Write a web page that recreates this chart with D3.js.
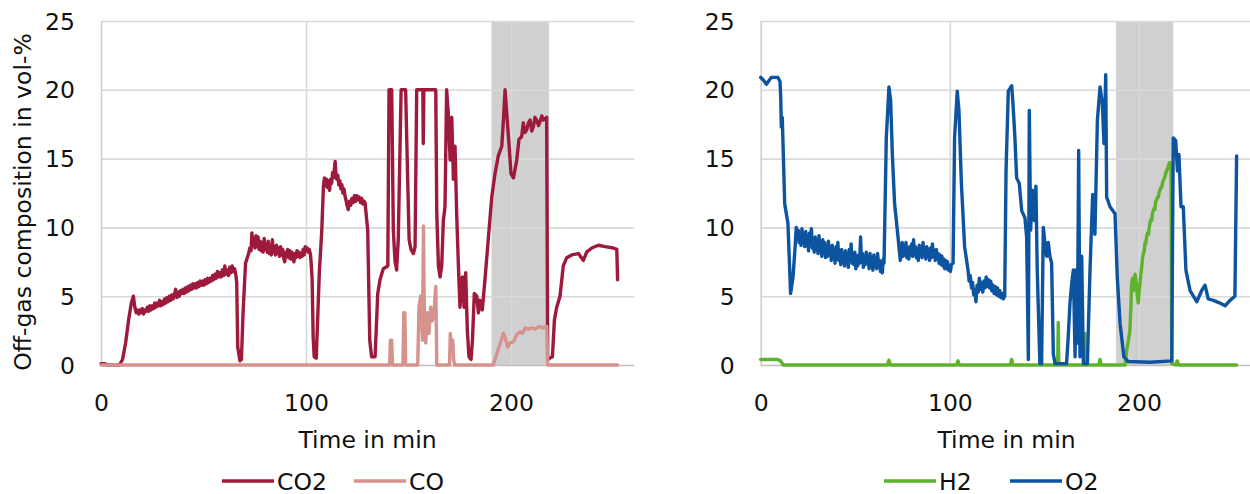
<!DOCTYPE html>
<html>
<head>
<meta charset="utf-8">
<script src="https://cdn.jsdelivr.net/npm/d3@7"></script>
<style>
  body { margin: 0; background: #fff; }
  svg text { font-family: "DejaVu Sans", sans-serif; font-size: 23.5px; fill: #111; }
  .grid line { stroke: #d9d9d9; stroke-width: 1.6; }
  .grid path { display: none; }
  .line { fill: none; stroke-width: 3.4; stroke-linejoin: round; stroke-linecap: round; }
</style>
</head>
<body>
<div id="chart"></div>
<script>
// values: [time in min, vol-%]
var co2 = [[0,0.1],[2,0.1],[3,0],[9,0],[10.5,0.4],[12,1.6],[13.5,3.3],[14.8,4.5],[15.8,5.0],[16.5,4.2],
  [17.2,3.8],[17.8,4.0],[18.4,3.7],[19,4.0],[19.6,3.8],[20.2,4.1],[20.8,3.7],[21.4,4.0],[22,3.9],[22.6,4.2],
  [23.2,3.9],[23.8,4.3],[24.4,4.0],[25,4.3],[25.6,4.1],[26.2,4.5],[26.8,4.2],[27.4,4.5],[28,4.3],[28.6,4.7],
  [29.2,4.3],[29.8,4.6],[30.4,4.4],[31,4.8],[31.6,4.5],[32.2,4.9],[32.8,4.6],[33.4,5.0],[34,4.7],[34.6,5.1],
  [35.2,4.8],[35.8,5.1],[36.4,5.5],[37,4.9],[37.6,5.3],[38.2,5.0],[38.8,5.4],[39.4,5.2],[40,5.5],[40.6,5.2],
  [41.2,5.6],[41.8,5.3],[42.4,5.7],[43,5.4],[43.6,5.8],[44.2,5.5],[44.8,5.9],[45.4,5.6],[46,5.9],[46.6,5.6],
  [47.2,6.0],[47.8,5.7],[48.4,6.1],[49,5.8],[49.6,6.1],[50.2,5.8],[50.8,6.2],[51.4,5.9],[52,6.3],[52.6,6.0],
  [53.2,6.3],[53.8,6.1],[54.4,6.5],[55,6.2],[55.6,6.6],[56.2,6.3],[56.8,6.8],[57.4,6.4],[58,6.7],[58.6,6.4],
  [59.2,6.9],[59.8,6.5],[60.4,7.2],[61,6.6],[61.6,6.9],[62.2,6.5],[62.8,7.1],[63.4,6.7],[64,7.2],[64.6,6.8],
  [65.2,7.0],[65.8,6.5],[66.2,6.0],[66.7,1.3],[67.8,0.3],[68.5,0.4],[69.3,3.8],[70.5,7.4],
  [72,8.1],[72.6,8.5],[73.2,8.3],[73.6,9.6],[74.1,8.7],[74.6,9.2],[75.1,8.5],[75.6,9.4],[76.1,8.6],[76.6,9.3],
  [77.1,8.4],[77.6,9.0],[78.1,8.3],[78.6,8.9],[79.1,8.2],[79.6,9.2],[80.1,8.4],[80.6,8.8],[81.1,8.2],[81.6,9.0],
  [82.1,8.1],[82.6,8.7],[83.1,8.0],[83.6,9.1],[84.1,8.2],[84.6,8.6],[85.1,8.0],[85.6,8.7],[86.1,8.1],[86.6,8.5],
  [87.1,7.9],[87.6,8.6],[88.1,8.0],[88.6,8.4],[89.1,7.8],[89.6,7.5],[90.1,8.2],[90.6,7.9],[91.1,8.4],[91.6,7.8],
  [92.1,8.3],[92.6,7.7],[93.1,8.2],[93.6,7.8],[94.1,7.5],[94.6,8.1],[95.1,7.8],[95.6,8.3],[96.1,7.9],[96.6,8.2],
  [97.1,7.8],[97.6,8.1],[98.1,7.9],[98.6,8.4],[99.1,8.0],[99.6,8.6],[100.1,8.3],[100.6,8.5],[101.1,8.2],
  [101.6,8.4],[102.2,8.0],[102.6,7.2],[103,6.2],[103.5,2.0],[104,0.6],[105,0.5],[105.8,3.8],[106.5,6.7],
  [107.7,9.8],[108.5,13.0],[109,13.6],[109.5,13.0],[110,13.5],[110.5,12.9],[111,13.4],[111.5,12.7],[112,13.5],
  [112.5,13.2],[113,14.0],[113.4,13.6],[113.8,14.2],[114.2,14.8],[114.6,13.9],[115,13.5],[115.5,13.8],[116,13.1],
  [116.5,13.4],[117,12.8],[117.5,13.1],[118,12.5],[118.5,12.8],[119,12.3],[119.5,12.0],[120,11.6],[120.6,11.3],
  [121.2,11.9],[121.8,11.6],[122.4,12.1],[123,11.8],[123.6,12.3],[124.2,11.9],[124.8,12.3],[125.4,12.0],
  [126,12.2],[126.6,11.8],[127.2,12.1],[127.8,11.7],[128.4,11.9],[128.8,11.8],[130.1,9.8],[131.1,1.8],[132,0.6],
  [133.7,0.6],[135,5.2],[136.1,6.2],[137.7,7.0],[139.9,7.2],[140.5,20],[141.8,20],[142.6,9.8],[143.4,7.6],
  [144.2,6.9],[145,9.1],[146.4,20],[148.6,20],[149.6,13.5],[150.3,9.1],[151.2,8.4],[152.4,8.1],[153.2,8.6],
  [154,20],[157,20],[157.2,16.1],[157.5,20],[163.3,20],[163.8,11],[164.6,7.2],[165.4,6.4],[166.2,7.2],[167,10.5],
  [167.8,11.5],[168.6,20],[169.4,18.3],[170.3,14.9],[171.1,18],[171.9,13.5],[172.7,15.9],[173.5,11],[174.3,7.4],
  [175.1,4.2],[176.3,6.4],[177.1,4.2],[177.9,6.7],[178.7,2.5],[179.5,0.6],[180.5,0.4],[181.2,1.8],[182.1,5.2],
  [183.3,5.0],[184.1,3.8],[184.9,4.7],[186,4.0],[187.3,6.2],[189,9.3],[190.6,12.2],[192.2,13.9],[193.8,15.2],
  [195.5,15.9],[196.3,17.8],[197.1,20],[198.4,17.3],[199,16.1],[200,13.9],[201.2,13.6],[202.8,14.9],[203.9,16.4],
  [205.2,16.6],[206,17.6],[206.8,16.9],[207.7,17.1],[208.5,17.6],[209.3,17.8],[210.1,17.0],[210.9,17.3],
  [211.7,18.0],[212.5,17.8],[213.4,17.4],[214.2,17.7],[215,18.1],[215.8,17.8],[216.6,17.9],[217.4,18],[217.9,0.4],
  [219,0.5],[220.2,0.6],[221.2,3.3],[222.3,4.2],[223.9,5.0],[225.5,7.2],[227.2,7.8],[229.6,8.0],[232.9,8.1],
  [235.3,7.6],[236.9,8.2],[239.4,8.5],[242.6,8.7],[245.9,8.6],[249.9,8.5],[251.6,8.4],[252,6.2]];

var co = [[0,0],[140.8,0],[141.2,1.8],[141.8,1.8],[142.2,0],[147.3,0],[147.7,3.8],[148.2,3.8],[148.6,0],[154.5,0],
  [155.1,4.2],[155.9,5.0],[156.8,1.8],[157.3,10.1],[157.7,3.8],[158.4,1.6],[159.2,3.8],[160,2.3],[160.8,4.2],
  [161.6,3.2],[162.5,4.0],[163.3,5.7],[163.8,0],[170,0],[170.4,2.3],[171,1.2],[171.6,1.8],[172,0.4],[172.5,0],
  [191.4,0],[193,0.8],[194.8,1.6],[196.3,2.3],[197.1,2.0],[198.4,1.3],[199.5,1.6],[201.2,1.7],[202.8,2.2],
  [204.4,2.4],[205.5,2.3],[207,2.7],[208.5,2.6],[210,2.7],[211.8,2.6],[213.5,2.8],[215.5,2.7],[217.4,2.8],
  [217.9,0],[252,0]];

var h2 = [[0,0.4],[9,0.4],[10.5,0.3],[12,0],[67,0],[67.8,0.35],[68.6,0],[103.5,0],[104.3,0.3],[105,0],[132,0],
  [132.7,0.4],[133.4,0],[157,0],[157.3,3.1],[157.6,0],[171.1,0],[171.4,2.3],[171.7,0],[178.7,0],[179.4,0.4],
  [180.1,0],[192.6,0],[193.5,1.1],[194.4,1.8],[195.2,2.5],[195.7,4.2],[196.1,5.9],[196.6,6.3],[197,5.4],
  [197.5,5.8],[197.9,6.6],[198.3,6.2],[198.7,5.8],[199.1,5.0],[199.6,4.5],[200,5.3],[200.5,5.9],[201,6.6],
  [201.4,7.1],[201.9,7.8],[202.3,8.1],[202.8,8.3],[203.2,8.9],[203.6,8.8],[204,9.3],[204.5,9.6],[205,9.5],
  [205.4,10.0],[205.8,10.3],[206.3,10.6],[206.7,10.5],[207.1,11.0],[207.5,11.2],[208,11.4],[208.4,11.3],
  [208.8,11.9],[209.3,12.0],[209.8,12.2],[210.2,12.2],[210.7,12.6],[211.1,12.7],[211.6,12.9],[212,12.9],
  [212.5,13.3],[212.9,13.4],[213.4,13.6],[213.8,13.7],[214.2,14.0],[214.6,14.1],[215.1,14.3],[215.5,14.4],
  [216,14.7],[216.4,14.7],[216.9,14.5],[217.4,0.1],[219.5,0],[220.2,0.3],[221,0],[251.6,0]];

var o2 = [[0,20.9],[1.5,20.7],[3,20.4],[4.5,20.7],[5.6,20.9],[9.1,20.9],[10.2,20.6],[10.6,19.4],[10.9,17.3],
  [11.4,18.0],[12.7,11.7],[14.4,10.3],[15.8,5.2],[17.1,6.4],
  [18.3,8.8],[18.8,10.0],[19.3,9.2],[19.8,9.8],[20.3,8.9],[20.8,9.6],[21.3,8.7],[21.8,9.9],[22.3,9.0],[22.8,9.5],
  [23.3,8.6],[23.8,9.7],[24.3,8.7],[24.8,9.2],[25.3,8.3],[25.8,9.6],[26.3,8.8],[26.8,9.9],[27.3,8.5],[27.8,9.1],
  [28.3,8.2],[28.8,9.3],[29.3,8.4],[29.8,9.0],[30.3,8.1],[30.8,9.4],[31.3,8.3],[31.8,8.8],[32.3,7.9],[32.8,9.1],
  [33.3,8.2],[33.8,8.9],[34.3,7.8],[34.8,8.6],[35.3,7.9],[35.8,9.0],[36.3,8.0],[36.8,8.5],[37.3,7.6],[37.8,8.7],
  [38.3,7.8],[38.8,8.3],[39.3,7.4],[39.8,8.6],[40.3,7.7],[40.8,8.9],[41.3,7.6],[41.8,8.2],[42.3,7.3],[42.8,8.4],
  [43.3,7.6],[43.8,8.1],[44.3,7.2],[44.8,8.3],[45.3,7.5],[45.8,8.0],[46.3,7.1],[46.8,8.4],[47.3,7.6],[47.8,8.8],
  [48.3,7.4],[48.8,8.1],[49.3,7.3],[49.8,8.2],[50.3,7.0],[50.8,7.9],[51.3,7.2],[51.8,8.0],[52.3,7.4],[52.8,9.3],
  [53.3,7.5],[53.8,8.1],[54.3,7.1],[54.8,7.9],[55.3,7.3],[55.8,8.2],[56.3,7.4],[56.8,7.8],[57.3,7.0],[57.8,8.1],
  [58.3,7.3],[58.8,7.7],[59.3,6.9],[59.8,8.0],[60.3,7.2],[60.8,7.8],[61.3,7.0],[61.8,8.1],[62.3,7.3],[62.8,7.6],
  [63.3,6.8],[63.8,7.5],[64.3,6.7],[64.8,7.7],[65.2,7.4],[66.4,16.5],[67.8,20.2],[68.7,19.2],[69.6,15.3],
  [70.8,11.7],[72.6,9.3],[73.2,8.4],[73.8,7.6],[74.3,8.2],[74.8,8.9],[75.3,7.9],[75.8,8.7],[76.3,8.0],[76.8,8.9],
  [77.3,7.8],[77.8,8.5],[78.3,7.7],[78.8,8.6],[79.3,8.0],[79.8,8.8],[80.3,7.9],[80.8,9.1],[81.3,8.0],[81.8,8.6],
  [82.3,7.8],[82.8,8.4],[83.3,7.6],[83.8,8.7],[84.3,8.0],[84.8,8.6],[85.3,7.8],[85.8,8.9],[86.3,8.1],[86.8,8.5],
  [87.3,7.7],[87.8,8.6],[88.3,7.9],[88.8,8.4],[89.3,7.6],[89.8,8.5],[90.3,7.8],[90.8,8.8],[91.3,7.9],[91.8,8.3],
  [92.3,7.6],[92.8,8.4],[93.3,7.7],[93.8,8.1],[94.3,7.4],[94.8,8.0],[95.3,7.3],[95.8,7.9],[96.3,7.2],[96.8,7.7],
  [97.3,7.0],[97.8,7.6],[98.3,7.0],[98.8,7.5],[99.3,6.9],[99.8,7.2],[100.3,6.8],[100.8,7.3],[101.7,7.4],
  [102.5,16.5],[103.9,19.9],[104.8,18.5],[106.1,13.2],[107.8,8.6],[109.6,6.9],[110.2,6.1],[110.8,6.5],
  [111.4,5.6],[112,6.0],[112.6,5.1],[113.2,5.5],[113.8,4.6],[114.4,5.8],[115,5.3],[115.6,6.3],[116.2,5.5],
  [116.8,6.0],[117.4,5.3],[118,6.1],[118.6,5.6],[119.2,6.4],[119.8,5.7],[120.4,6.2],[121,5.6],[121.6,6.1],
  [122.2,5.4],[122.8,5.8],[123.4,5.2],[124,5.7],[124.6,5.1],[125.2,5.6],[125.8,5.0],[126.4,5.4],[127,4.9],
  [127.6,5.2],[128.2,4.8],[129,5.0],[129.7,14.1],[130.9,19.9],[132.7,20.3],[133.5,18.7],[134.4,16.5],
  [135.3,13.6],[136.7,13.2],[138,11.2],[139.7,10.7],[140.6,9.3],[141.5,0.4],[142,18.5],[142.7,9.8],[143.6,12.7],
  [144.7,10.5],[145.5,13],[146.2,6.9],[147.6,0.1],[148.5,0.1],[149.4,10],[150.3,8.8],[151.2,7.9],[152,8.9],
  [152.9,7.9],[153.8,7.4],[154.7,0.8],[155.6,0.1],[161.7,0.1],[162.6,2.1],[163.5,4.5],[164.4,5.9],[165.3,6.9],
  [166.2,0.6],[166.7,6.9],[167.4,1.6],[168.1,15.6],[168.8,0.6],[169.7,7.9],[170.6,0.1],[172.7,0.1],[174.1,6.9],
  [175.5,12.4],[176.7,9.5],[178,17.8],[179.4,20.2],[180.6,19],[181.5,16.1],[182.4,21.1],[182.9,12.2],[184.7,11.5],
  [187.3,11],[188.5,6.4],[190,3],[192,0.6],[194.3,0.25],[205.8,0.2],[217.3,0.3],[218.1,16.5],[219.4,16.3],
  [220.3,14.1],[221.1,15.3],[222.2,11.5],[223.4,11.5],[224.8,6.9],[227,5.4],[230.5,4.6],[233.1,5.4],[234.9,5.8],
  [236.6,4.8],[239.3,4.7],[242.8,4.5],[245.5,4.3],[248.1,4.7],[250.7,5.0],[251.6,15.2]];

var yTicks = [0, 5, 10, 15, 20, 25];
var xTicks = [0, 100, 200];
var bandLeft = [190.5, 218.5];
var bandRight = [187.8, 218.1];

var width = 1250, height = 494;
var svg = d3.select('#chart').append('svg')
    .attr('width', width)
    .attr('height', height);

svg.append('rect').attr('width', width).attr('height', height).attr('fill', '#fff');

function drawPanel(opts)
{
    var x = d3.scaleLinear().domain([0, 260]).range([opts.left, opts.right]);
    var y = d3.scaleLinear().domain([0, 25]).range([365, 21]);

    // grey band behind the grid
    svg.append('rect')
        .attr('x', x(opts.band[0]))
        .attr('y', y(25))
        .attr('width', x(opts.band[1]) - x(opts.band[0]))
        .attr('height', y(0) - y(25))
        .attr('fill', '#d0d0d0');

    var yAxis = svg.append('g')
        .attr('class', 'grid')
        .attr('transform', 'translate(' + opts.left + ',0)')
        .call(d3.axisLeft(y).tickValues(yTicks).tickSize(-(opts.right - opts.left)).tickPadding(opts.yPad));
    yAxis.selectAll('text').attr('dy', '0.34em');
    yAxis.selectAll('line').filter(function(d) { return d === 0; }).style('stroke', '#bfbfbf');

    var xAxis = svg.append('g')
        .attr('class', 'grid')
        .attr('transform', 'translate(0,365)')
        .call(d3.axisBottom(x).tickValues(xTicks).tickSize(-(365 - 21)).tickPadding(29));
    xAxis.selectAll('line').filter(function(d) { return d === 0; }).style('stroke', '#cfcfcf');

    svg.append('text')
        .attr('x', (opts.left + opts.right) / 2)
        .attr('y', 448)
        .attr('text-anchor', 'middle')
        .text('Time in min');

    var line = d3.line()
        .x(function(d) { return x(d[0]); })
        .y(function(d) { return y(d[1]); });

    opts.series.forEach(function(s) {
        svg.append('path')
            .attr('class', 'line')
            .attr('d', line(s.data))
            .style('stroke', s.color);
    });

    // legend
    opts.legend.forEach(function(s) {
        svg.append('line')
            .attr('x1', s.x).attr('x2', s.x + 52)
            .attr('y1', 481).attr('y2', 481)
            .style('stroke', s.color)
            .style('stroke-width', 3.4);
        svg.append('text')
            .attr('x', s.x + 55)
            .attr('y', 489.5)
            .text(s.name);
    });
}

drawPanel({
    left: 101, right: 634, yPad: 26, band: bandLeft,
    series: [{data: co2, color: '#9e1a3c'}, {data: co, color: '#d6928c'}],
    legend: [{name: 'CO2', x: 222, color: '#9e1a3c'}, {name: 'CO', x: 354, color: '#d6928c'}]
});

drawPanel({
    left: 760.7, right: 1252.5, yPad: 26, band: bandRight,
    series: [{data: h2, color: '#5fb22e'}, {data: o2, color: '#0d54a0'}],
    legend: [{name: 'H2', x: 884, color: '#5fb22e'}, {name: 'O2', x: 1010, color: '#0d54a0'}]
});

svg.append('text')
    .attr('transform', 'translate(31,202) rotate(-90)')
    .attr('text-anchor', 'middle')
    .text('Off-gas composition in vol-%');
</script>
</body>
</html>
